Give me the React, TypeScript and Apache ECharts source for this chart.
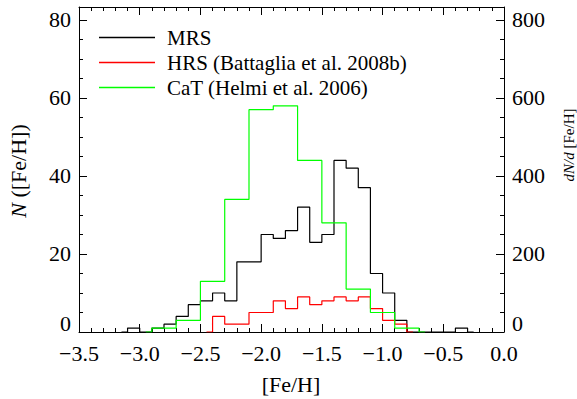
import React, { useEffect, useRef } from "react";
import * as echarts from "echarts";

// MRS histogram: bins of 0.1 dex starting at -3.1
const mrsStart = -3.1;
const mrsWidth = 0.1;
const mrsCounts = [1, 0, 1, 2, 4, 7, 8, 10, 8, 18, 18, 25, 24, 26, 32, 23, 25, 44, 42, 37, 15, 10, 3, 0, 0, 0, 0, 1];

// HRS histogram: bins of 0.1 dex starting at -2.4
const hrsStart = -2.4;
const hrsWidth = 0.1;
const hrsCounts = [4, 2, 2, 5, 5, 8, 6, 9, 7, 8, 9, 8, 9, 6, 3, 2];

// CaT histogram: bins of 0.2 dex starting at -2.9
const catStart = -2.9;
const catWidth = 0.2;
const catCounts = [1, 3, 13, 34, 57, 58, 44, 28, 11, 5, 1];

const seriesNames = ["MRS", "HRS (Battaglia et al. 2008b)", "CaT (Helmi et al. 2006)"];
const seriesColors = ["#000000", "#ff0000", "#00ff00"];

const xTicks = [-3.5, -3.0, -2.5, -2.0, -1.5, -1.0, -0.5, 0.0];
const leftTicks = [0, 20, 40, 60, 80];
const rightTicks = [0, 200, 400, 600, 800];

const FONT = "'Liberation Serif', 'Times New Roman', 'DejaVu Serif', serif";

function r(v: number) {
  return Number(v.toFixed(4));
}

function stepPoints(start: number, width: number, counts: number[]) {
  const pts: number[][] = [[r(start - 0.05), 0], [r(start), 0]];
  counts.forEach((c, i) => {
    const l = r(start + i * width);
    const rr = r(start + (i + 1) * width);
    pts.push([l, c], [rr, c]);
  });
  const end = r(start + counts.length * width);
  pts.push([end, 0], [r(end + 0.05), 0]);
  return pts;
}

const fmtMinus = (s: string) => s.replace("-", "\u2212");

export default function App() {
  const ref = useRef<HTMLDivElement>(null);
  useEffect(() => {
    if (!ref.current) return;
    const chart = echarts.init(ref.current, undefined, { renderer: "svg" });
    const axisLine = { show: true, onZero: false, lineStyle: { color: "#000", width: 1 } };
    const tick = (len: number) => ({ show: true, inside: true, length: len, lineStyle: { color: "#000", width: 1 } });
    const yLeftMax = 83.33;
    const yRightMax = 833.3;
    const option: any = {
      animation: false,
      backgroundColor: "#ffffff",
      textStyle: { fontFamily: FONT },
      grid: { left: 79, right: 73, top: 7, bottom: 67, containLabel: false },
      legend: {
        orient: "vertical",
        left: 94,
        top: 20,
        itemWidth: 56,
        itemHeight: 1.5,
        itemGap: 0,
        icon: "rect",
        data: seriesNames,
        textStyle: {
          fontFamily: FONT,
          fontSize: 21,
          lineHeight: 25,
          color: "#000",
          padding: [0, 0, 0, 7],
        },
      },
      xAxis: [
        {
          type: "value",
          position: "bottom",
          min: xTicks[0],
          max: xTicks[xTicks.length - 1],
          interval: 0.5,
          axisLine,
          axisTick: tick(8),
          minorTick: { show: true, splitNumber: 5, length: 4, lineStyle: { color: "#000" } },
          splitLine: { show: false },
          axisLabel: {
            show: true,
            margin: 10,
            fontFamily: FONT,
            fontSize: 22,
            color: "#000",
            formatter: (v: number) => fmtMinus(v.toFixed(1)),
          },
        },
        {
          type: "value",
          position: "top",
          min: xTicks[0],
          max: xTicks[xTicks.length - 1],
          interval: 0.5,
          axisLine,
          axisTick: tick(8),
          minorTick: { show: true, splitNumber: 5, length: 4, lineStyle: { color: "#000" } },
          splitLine: { show: false },
          axisLabel: { show: false },
        },
      ],
      yAxis: [
        {
          type: "value",
          position: "left",
          min: 0,
          max: yLeftMax,
          interval: 20,
          axisLine,
          axisTick: tick(8),
          splitLine: { show: false },
          axisLabel: {
            show: true,
            margin: 8,
            fontFamily: FONT,
            fontSize: 22,
            color: "#000",
            showMaxLabel: false,
            formatter: (v: number) => {
              if (!leftTicks.includes(v)) return "";
              return v === 0 ? "{z|0}" : String(v);
            },
            rich: { z: { fontFamily: FONT, fontSize: 22, color: "#000", padding: [0, 0, 17, 0] } },
          },
        },
        {
          type: "value",
          position: "right",
          min: 0,
          max: yRightMax,
          interval: 200,
          axisLine,
          axisTick: tick(8),
          splitLine: { show: false },
          axisLabel: {
            show: true,
            margin: 8,
            fontFamily: FONT,
            fontSize: 22,
            color: "#000",
            showMaxLabel: false,
            formatter: (v: number) => {
              if (!rightTicks.includes(v)) return "";
              return v === 0 ? "{z|0}" : String(v);
            },
            rich: { z: { fontFamily: FONT, fontSize: 22, color: "#000", padding: [0, 0, 17, 0] } },
          },
        },
        {
          // minor ticks (every 5 counts); ECharts places this one on the free side
          type: "value",
          position: "left",
          min: 0,
          max: yLeftMax,
          interval: 5,
          axisLine: { show: false, onZero: false },
          axisTick: tick(4),
          splitLine: { show: false },
          axisLabel: { show: false },
        },
        {
          type: "value",
          position: "right",
          min: 0,
          max: yRightMax,
          interval: 50,
          axisLine: { show: false, onZero: false },
          axisTick: tick(4),
          splitLine: { show: false },
          axisLabel: { show: false },
        },
      ],
      series: seriesNames.map((name, k) => ({
        name,
        type: "line",
        xAxisIndex: 0,
        yAxisIndex: 0,
        data:
          k === 0
            ? stepPoints(mrsStart, mrsWidth, mrsCounts)
            : k === 1
            ? stepPoints(hrsStart, hrsWidth, hrsCounts)
            : stepPoints(catStart, catWidth, catCounts),
        showSymbol: false,
        symbol: "none",
        color: seriesColors[k],
        lineStyle: { color: seriesColors[k], width: 1.2 },
        clip: true,
      })),
      graphic: [
        {
          type: "text",
          x: 291,
          y: 384,
          style: {
            text: "[Fe/H]",
            fontFamily: FONT,
            fontSize: 22,
            fill: "#000",
            align: "center",
            verticalAlign: "middle",
          },
        },
        {
          type: "text",
          x: 18,
          y: 171,
          rotation: Math.PI / 2,
          style: {
            text: "{i|N} ([Fe/H])",
            fontFamily: FONT,
            fontSize: 22,
            fill: "#000",
            align: "center",
            verticalAlign: "middle",
            rich: { i: { fontFamily: FONT, fontSize: 22, fontStyle: "italic", fill: "#000" } },
          },
        },
        {
          type: "text",
          x: 569,
          y: 145,
          rotation: Math.PI / 2,
          style: {
            text: "{i|dN/d} [Fe/H]",
            fontFamily: FONT,
            fontSize: 15,
            fill: "#000",
            align: "center",
            verticalAlign: "middle",
            rich: { i: { fontFamily: FONT, fontSize: 15, fontStyle: "italic", fill: "#000" } },
          },
        },
      ],
    };
    chart.setOption(option);
    return () => chart.dispose();
  }, []);
  return (
    <div
      ref={ref}
      style={{ position: "fixed", left: 0, top: 0, width: 577, height: 399, background: "#fff" }}
    />
  );
}
